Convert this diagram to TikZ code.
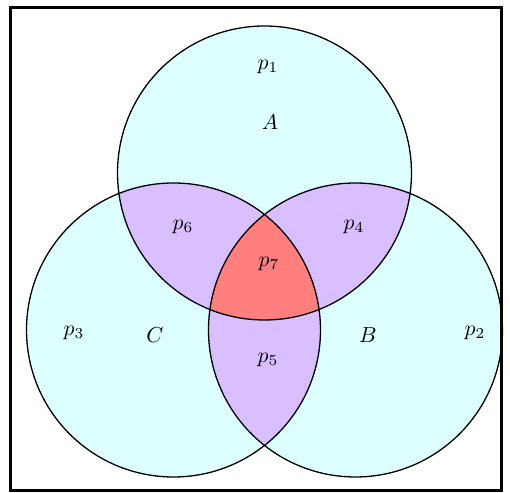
\documentclass[tikz,border=0pt]{standalone}
\usepackage{amsmath}
\usepackage{amssymb}
\usepackage{tikz}
\definecolor{vennCyan}{HTML}{DDFFFF}
\definecolor{vennPurple}{HTML}{D9BFFF}
\definecolor{vennRed}{HTML}{FF7F7F}

\begin{document}
\begin{tikzpicture}[scale=1.62]
\useasboundingbox (-2.645,-1.63) rectangle (2.455,3.30);
\def\circA{(0,1.57) circle (1.47)}
\def\circB{(0.91,0) circle (1.47)}
\def\circC{(-0.91,0) circle (1.47)}

% single regions
\fill[vennCyan] \circA;
\fill[vennCyan] \circB;
\fill[vennCyan] \circC;

% pairwise overlaps
\begin{scope}
\clip \circA;
\fill[vennPurple] \circB;
\fill[vennPurple] \circC;
\end{scope}
\begin{scope}
\clip \circB;
\fill[vennPurple] \circC;
\end{scope}

% all three
\begin{scope}
\clip \circA;
\clip \circB;
\fill[vennRed] \circC;
\end{scope}

\draw[semithick] \circA;
\draw[semithick] \circB;
\draw[semithick] \circC;

\draw[line width=1.4pt] (-2.54,-1.605) rectangle (2.37,3.225);


\node (pOne) at (0.035,2.63) {$p_1$};
\node (setA) at (0.055,2.08) {$A$};
\node (pSix) at (-0.815,1.03) {$p_6$};
\node (pFour) at (0.895,1.03) {$p_4$};
\node (pSeven) at (0.045,0.66) {$p_7$};

\node (pThree) at (-1.905,-0.03) {$p_3$};
\node (setC) at (-1.095,-0.05) {$C$};
\node (setB) at (1.035,-0.05) {$B$};
\node (pTwo) at (2.105,-0.03) {$p_2$};
\node (pFive) at (0.035,-0.30) {$p_5$};
\end{tikzpicture}
\end{document}
